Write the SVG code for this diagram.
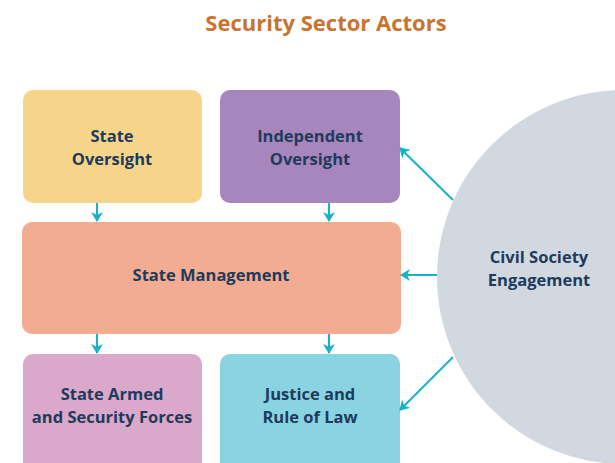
<svg xmlns="http://www.w3.org/2000/svg" width="615" height="463" viewBox="0 0 615 463">
<style>
.t{font-family:"Open Sans","Noto Sans",sans-serif;font-weight:700;font-size:16.5px;fill:#1E3A5C;text-anchor:middle}
.title{font-family:"Open Sans","Noto Sans",sans-serif;font-weight:700;font-size:22px;fill:#C8742F;text-anchor:middle}
.c{stroke:#16B3C7;stroke-width:2;fill:none}
</style>
<defs>
<marker id="ah2" viewBox="0 0 10 10" refX="9" refY="5" markerWidth="10" markerHeight="12" orient="auto" markerUnits="userSpaceOnUse" preserveAspectRatio="none">
<path d="M0,0 L10,5 L0,10 L3,5 Z" fill="#16B3C7"/>
</marker>
</defs>
<rect width="615" height="463" fill="#FFFFFF"/>
<text class="title" x="326" y="31">Security Sector Actors</text>
<g id="civil-society">
<circle cx="624" cy="277" r="187" fill="#D1D8E0"/>
<text class="t" x="539" y="263">Civil Society</text>
<text class="t" x="539" y="285.5">Engagement</text>
</g>
<g id="state-oversight">
<rect x="23" y="90" width="179" height="113" rx="10" fill="#F6D58B"/>
<text class="t" x="112" y="142">State</text>
<text class="t" x="112" y="164.5">Oversight</text>
</g>
<g id="independent-oversight">
<rect x="220" y="90" width="180" height="113" rx="10" fill="#A686BD"/>
<text class="t" x="310" y="142">Independent</text>
<text class="t" x="310" y="164.5">Oversight</text>
</g>
<g id="state-management">
<rect x="22" y="222" width="379" height="112" rx="10" fill="#F2AC91"/>
<text class="t" x="211" y="281">State Management</text>
</g>
<g id="state-armed">
<rect x="23" y="354" width="179" height="120" rx="10" fill="#D9A8CA"/>
<text class="t" x="112" y="400">State Armed</text>
<text class="t" x="112" y="422.5">and Security Forces</text>
</g>
<g id="justice">
<rect x="220" y="354" width="180" height="120" rx="10" fill="#8AD3E0"/>
<text class="t" x="310" y="400">Justice and</text>
<text class="t" x="310" y="422.5">Rule of Law</text>
</g>
<g id="connectors">
<line class="c" x1="97" y1="203" x2="97" y2="221" marker-end="url(#ah2)"/>
<line class="c" x1="329" y1="203" x2="329" y2="221" marker-end="url(#ah2)"/>
<line class="c" x1="97" y1="334" x2="97" y2="353" marker-end="url(#ah2)"/>
<line class="c" x1="329" y1="334" x2="329" y2="353" marker-end="url(#ah2)"/>
<line class="c" x1="453" y1="200" x2="400" y2="148" marker-end="url(#ah2)"/>
<line class="c" x1="437" y1="275" x2="401" y2="275" marker-end="url(#ah2)"/>
<line class="c" x1="453" y1="357" x2="400" y2="410" marker-end="url(#ah2)"/>
</g>
</svg>
